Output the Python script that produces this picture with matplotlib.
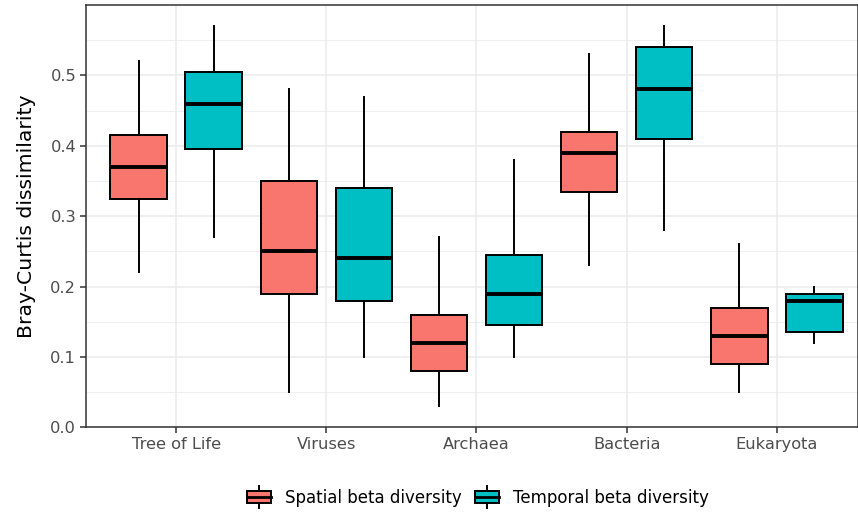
import matplotlib
matplotlib.use("Agg")
import matplotlib.pyplot as plt
from matplotlib.legend_handler import HandlerBase
from matplotlib.patches import Patch, Rectangle
from matplotlib.lines import Line2D

# data (whisker low, Q1, median, Q3, whisker high)
groups = ["Tree of Life", "Viruses", "Archaea", "Bacteria", "Eukaryota"]
series = ["Spatial beta diversity", "Temporal beta diversity"]
colors = ["#F8766D", "#00BFC4"]

spatial_low = [0.22, 0.05, 0.03, 0.23, 0.05]
spatial_q1 = [0.325, 0.19, 0.08, 0.335, 0.09]
spatial_med = [0.37, 0.25, 0.12, 0.39, 0.13]
spatial_q3 = [0.415, 0.35, 0.16, 0.42, 0.17]
spatial_high = [0.52, 0.48, 0.27, 0.53, 0.26]

temporal_low = [0.27, 0.10, 0.10, 0.28, 0.12]
temporal_q1 = [0.395, 0.18, 0.145, 0.41, 0.135]
temporal_med = [0.46, 0.24, 0.19, 0.48, 0.18]
temporal_q3 = [0.505, 0.34, 0.245, 0.54, 0.19]
temporal_high = [0.57, 0.47, 0.38, 0.57, 0.20]

data = [
    (spatial_low, spatial_q1, spatial_med, spatial_q3, spatial_high),
    (temporal_low, temporal_q1, temporal_med, temporal_q3, temporal_high),
]

fig = plt.figure(figsize=(8.58, 5.12), dpi=100)
ax = fig.add_axes([0.1002, 0.1654, 0.8998, 0.8248])

offsets = [-0.25, 0.25]
for s, (lo, q1, med, q3, hi) in enumerate(data):
    stats = []
    for i in range(len(groups)):
        stats.append(dict(whislo=lo[i], q1=q1[i], med=med[i], q3=q3[i],
                          whishi=hi[i], fliers=[]))
    pos = [i + offsets[s] for i in range(len(groups))]
    ax.bxp(stats, positions=pos, widths=0.375, patch_artist=True,
           showcaps=False, showfliers=False,
           boxprops=dict(facecolor=colors[s], edgecolor="black", linewidth=1.4),
           medianprops=dict(color="black", linewidth=2.8, solid_capstyle="butt"),
           whiskerprops=dict(color="black", linewidth=1.4),
           zorder=3)

ax.set_xlim(-0.6, 4.54)
ax.set_ylim(0, 0.6)
ax.set_xticks(range(len(groups)))
ax.set_xticklabels(groups)
ax.set_yticks([0.0, 0.1, 0.2, 0.3, 0.4, 0.5])
ax.set_yticks([0.05, 0.15, 0.25, 0.35, 0.45, 0.55], minor=True)
ax.yaxis.set_major_formatter(matplotlib.ticker.FormatStrFormatter("%.1f"))

ax.grid(True, which="major", color="#EBEBEB", linewidth=1.1, zorder=0)
ax.grid(True, which="minor", axis="y", color="#EBEBEB", linewidth=0.55, zorder=0)
ax.set_axisbelow(True)
for sp in ax.spines.values():
    sp.set_color("#333333")
    sp.set_linewidth(1.1)
ax.tick_params(which="major", length=4, width=1.1, color="#333333",
               labelsize=11.7, labelcolor="#4D4D4D", pad=3)
ax.tick_params(which="minor", length=0)
ax.set_ylabel("Bray-Curtis dissimilarity", fontsize=14.7, labelpad=10)


class BoxKeyHandler(HandlerBase):
    def create_artists(self, legend, orig_handle, xdescent, ydescent,
                       width, height, fontsize, trans):
        x0, y0 = -xdescent, -ydescent
        cx = x0 + width / 2
        box = Rectangle((x0, y0 + height * 0.16), width, height * 0.68,
                        facecolor=orig_handle.get_facecolor(),
                        edgecolor="black", linewidth=1.4, transform=trans)
        whisk = Line2D([cx, cx], [y0 - 1, y0 + height + 1], color="black",
                       linewidth=1.4, transform=trans)
        med = Line2D([x0, x0 + width], [y0 + height / 2] * 2, color="black",
                     linewidth=2.0, transform=trans)
        return [whisk, box, med]


handles = [Patch(facecolor=c, label=l) for c, l in zip(colors, series)]
fig.legend(handles=handles, loc="center", bbox_to_anchor=(0.557, 0.029),
           ncol=2, frameon=False, fontsize=12, handlelength=1.45,
           handleheight=1.35, handletextpad=0.85, columnspacing=0.75,
           handler_map={Patch: BoxKeyHandler()})

fig.savefig("out.png", dpi=100)
